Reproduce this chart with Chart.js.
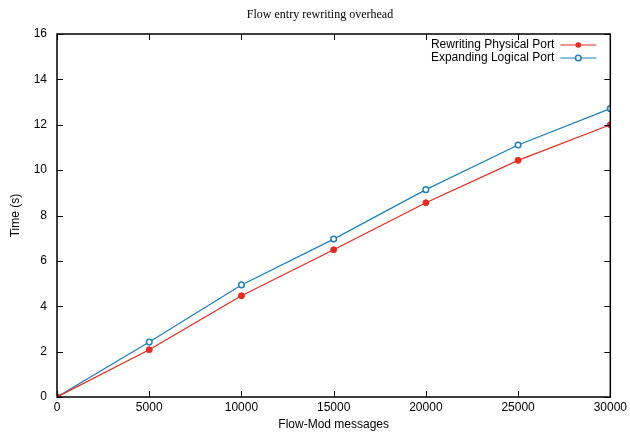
<!DOCTYPE html>
<html>
<head>
<meta charset="utf-8">
<script src="https://cdn.jsdelivr.net/npm/chart.js@4/dist/chart.umd.min.js"></script>
<style>
html,body{margin:0;padding:0;background:#fff;}
#wrap{width:630px;height:435px;}
</style>
</head>
<body>
<div id="wrap"><canvas id="c" width="630" height="435"></canvas></div>
<script>
const chartTitle = "Flow entry rewriting overhead";
const xLabel = "Flow-Mod messages";
const yLabel = "Time (s)";
const flowMods = [0, 5000, 10000, 15000, 20000, 25000, 30000];
const physicalPort = [0, 2.08, 4.46, 6.49, 8.56, 10.43, 12.0];
const logicalPort = [0, 2.42, 4.94, 6.96, 9.14, 11.11, 12.71];
const seriesNames = ["Rewriting Physical Port", "Expanding Logical Port"];
const RED = "#ea2a1f";
const BLUE = "#1c7fc2";

function pts(xs, ys){ return xs.map((x,i)=>({x:x, y:ys[i]})); }

const frame = {
  id: 'frame',
  afterDraw(chart){
    const ctx = chart.ctx, a = chart.chartArea;
    const xs = chart.scales.x, ys = chart.scales.y;
    ctx.save();
    ctx.strokeStyle = '#000';
    ctx.lineWidth = 1;
    const L = 6;
    ctx.beginPath();
    xs.ticks.forEach(t=>{
      const px = Math.round(xs.getPixelForValue(t.value))+0.5;
      ctx.moveTo(px, a.bottom); ctx.lineTo(px, a.bottom - L);
      ctx.moveTo(px, a.top); ctx.lineTo(px, a.top + L);
    });
    ys.ticks.forEach(t=>{
      const py = Math.round(ys.getPixelForValue(t.value))+0.5;
      ctx.moveTo(a.left, py); ctx.lineTo(a.left + L, py);
      ctx.moveTo(a.right, py); ctx.lineTo(a.right - L, py);
    });
    ctx.stroke();
    ctx.lineWidth = 1.5;
    ctx.strokeRect(a.left, a.top, a.right - a.left, a.bottom - a.top);
    // title
    ctx.fillStyle = '#000';
    ctx.font = '12px "Liberation Serif", "Times New Roman", serif';
    ctx.textAlign = 'center';
    ctx.textBaseline = 'middle';
    ctx.fillText(chartTitle, 320, 15);
    // legend
    ctx.font = '12px "Liberation Sans", Arial, sans-serif';
    ctx.textAlign = 'right';
    chart.data.datasets.forEach((ds, i)=>{
      const y = 45 + i*13;
      ctx.fillStyle = '#000';
      ctx.fillText(ds.label, a.right - 56, y);
      ctx.strokeStyle = ds.borderColor;
      ctx.lineWidth = 1.2;
      ctx.beginPath();
      ctx.moveTo(a.right - 50, y); ctx.lineTo(a.right - 14, y);
      ctx.stroke();
      ctx.beginPath();
      ctx.arc(a.right - 32, y, 2.8, 0, Math.PI*2);
      if (ds.pointBackgroundColor !== '#ffffff') { ctx.fillStyle = ds.borderColor; ctx.fill(); }
      else { ctx.fillStyle = '#fff'; ctx.fill(); ctx.lineWidth = 1.5; ctx.stroke(); }
    });
    ctx.restore();
  }
};

new Chart(document.getElementById('c'), {
  type: 'line',
  data: {
    datasets: [
      { label: seriesNames[0], data: pts(flowMods, physicalPort), borderColor: RED, backgroundColor: RED,
        pointBackgroundColor: RED, pointBorderColor: RED, pointRadius: 3, pointBorderWidth: 1, borderWidth: 1.2, tension: 0 },
      { label: seriesNames[1], data: pts(flowMods, logicalPort), borderColor: BLUE, backgroundColor: BLUE,
        pointBackgroundColor: '#ffffff', pointBorderColor: BLUE, pointRadius: 2.8, pointBorderWidth: 1.5, borderWidth: 1.2, tension: 0 }
    ]
  },
  options: {
    responsive: false,
    animation: false,
    layout: { padding: { left: 0, right: 19, top: 34, bottom: 0 } },
    plugins: { legend: { display: false }, title: { display: false }, tooltip: { enabled: false } },
    scales: {
      x: {
        type: 'linear', min: 0, max: 30000,
        afterFit(s){ s.height = 38; },
        grid: { display: false, drawTicks: false },
        border: { display: false },
        ticks: { stepSize: 5000, padding: 3, color: '#000', maxRotation: 0, autoSkip: false,
          font: { family: '"Liberation Sans", Arial, sans-serif', size: 12 },
          callback: v => String(v) },
        title: { display: true, text: xLabel, color: '#000', padding: { top: 0, bottom: 3 },
          font: { family: '"Liberation Sans", Arial, sans-serif', size: 12 } }
      },
      y: {
        min: 0, max: 16,
        afterFit(s){ s.width = 57; },
        grid: { display: false, drawTicks: false },
        border: { display: false },
        ticks: { stepSize: 2, padding: 10, color: '#000',
          font: { family: '"Liberation Sans", Arial, sans-serif', size: 12 } },
        title: { display: true, text: yLabel, color: '#000', padding: { top: 8, bottom: 0 },
          font: { family: '"Liberation Sans", Arial, sans-serif', size: 12 } }
      }
    }
  },
  plugins: [frame]
});
</script>
</body>
</html>
